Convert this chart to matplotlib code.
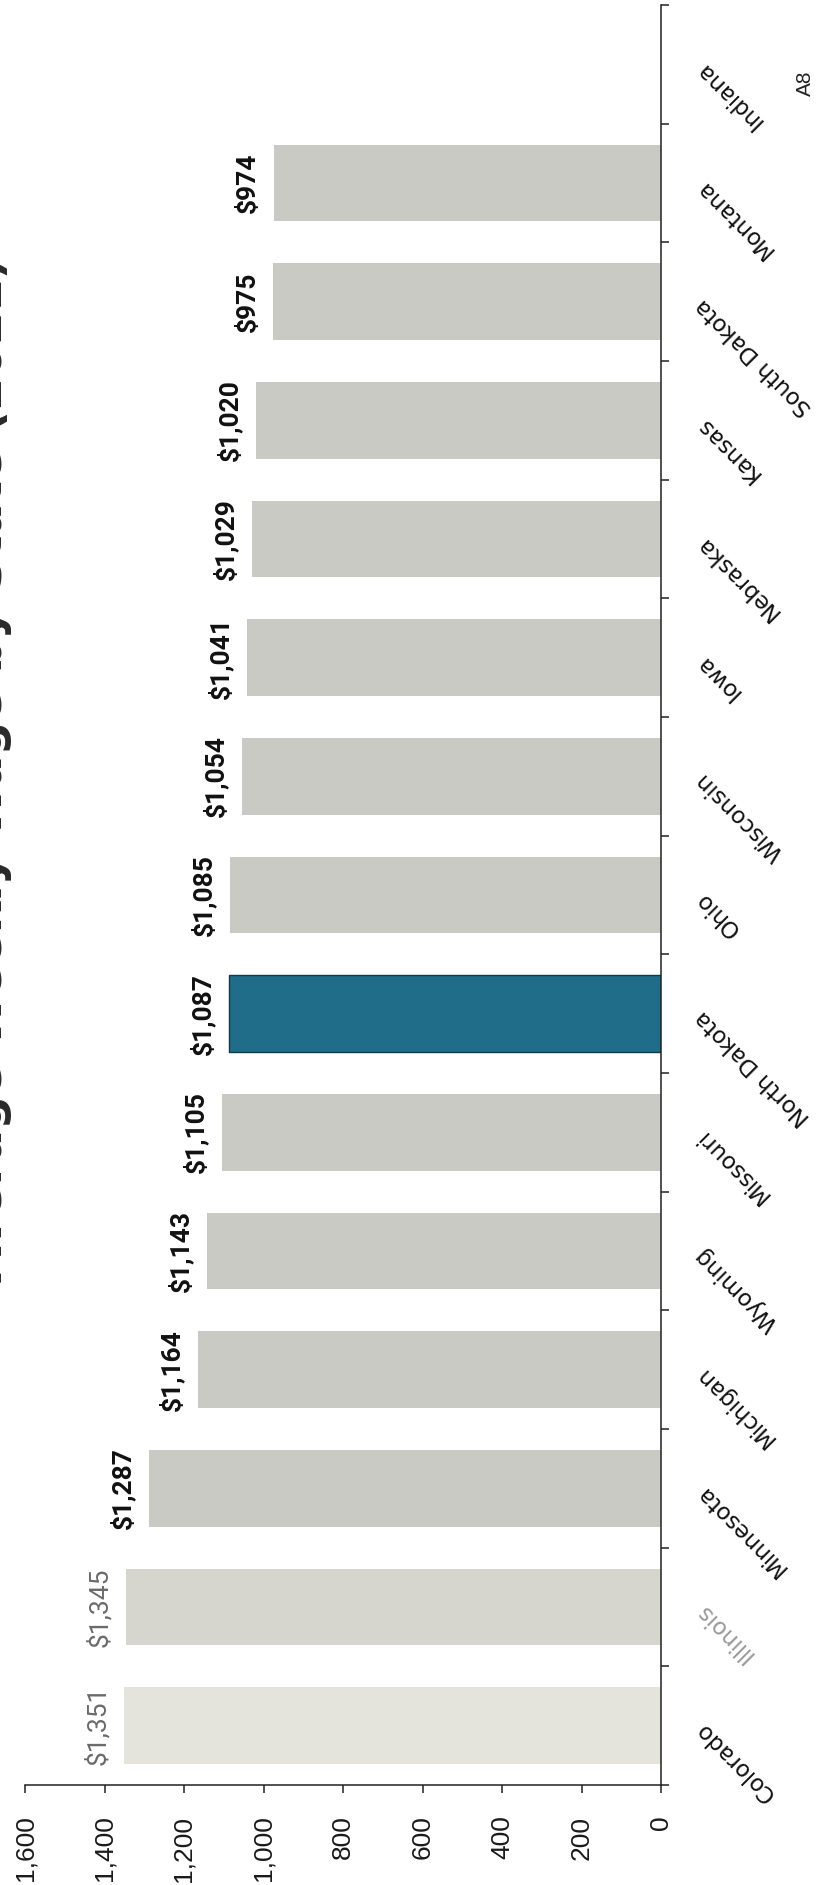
import numpy as np
import matplotlib
matplotlib.use("Agg")
import matplotlib.pyplot as plt

# Average weekly wage by state, sorted high to low
states = ["Colorado", "Illinois", "Minnesota", "Michigan", "Wyoming", "Missouri",
          "North Dakota", "Ohio", "Wisconsin", "Iowa", "Nebraska", "Kansas",
          "South Dakota", "Montana", "Indiana"]
wages = [1351, 1345, 1287, 1164, 1143, 1105, 1087, 1085, 1054, 1041, 1029,
         1020, 975, 974, np.nan]
value_ticks = [0, 200, 400, 600, 800, 1000, 1200, 1400, 1600]
value_tick_labels = ["0", "200", "400", "600", "800", "1,000", "1,200", "1,400", "1,600"]
highlight = "North Dakota"
title = "Average Weekly Wage by State (2021)"

W, H = 817, 1885
fig = plt.figure(figsize=(W / 100, H / 100), dpi=100)
fig.patch.set_facecolor("white")

# axes box in pixel terms: value axis along the bottom, category axis on the right
x0, x1 = 25, 661
y_top, y_bot = 5, 1785
ax = fig.add_axes([x0 / W, (H - y_bot) / H, (x1 - x0) / W, (y_bot - y_top) / H])

pos = np.arange(len(states))
gray = "#cacac5"
colors = []
for s in states:
    if s == highlight:
        colors.append("#1f6d88")
    elif s == "Colorado":
        colors.append("#e4e4dc")
    elif s == "Illinois":
        colors.append("#d6d6cf")
    else:
        colors.append(gray)
edges = ["#0e3a4c" if s == highlight else "none" for s in states]

ax.barh(pos, wages, height=0.645, color=colors, edgecolor=edges, linewidth=1.0)

ax.set_xlim(1600, 0)
ax.set_ylim(-0.5, len(states) - 0.5)

# value labels
for i, (s, v) in enumerate(zip(states, wages)):
    if np.isnan(v):
        continue
    faded = s in ("Colorado", "Illinois")
    ax.annotate(f"${v:,.0f}", (v, i), xytext=(-10, 0), textcoords="offset points",
                rotation=90, ha="right", va="center",
                fontsize=19, fontweight="normal" if faded else "bold",
                color="#6a6a6a" if faded else "#111111",
                family=["Roboto", "DejaVu Sans"])

# spines
for side in ("left", "top"):
    ax.spines[side].set_visible(False)
for side in ("right", "bottom"):
    ax.spines[side].set_color("#222222")
    ax.spines[side].set_linewidth(1.1)

# value axis
ax.set_xticks(value_ticks)
ax.set_xticklabels(value_tick_labels, rotation=90, ha="center", va="top",
                   fontsize=19, family=["Liberation Sans", "DejaVu Sans"], color="#1a1a1a")
ax.tick_params(axis="x", which="major", length=6, width=1.1, direction="out",
               pad=16, color="#222222")

# category axis on the right: ticks at category boundaries, labels at centres
ax.yaxis.tick_right()
ax.set_yticks(pos)
ax.set_yticklabels(states, fontsize=16.5, family=["DejaVu Sans"])
ax.set_yticks(np.arange(-0.5, len(states), 1.0), minor=True)
ax.tick_params(axis="y", which="major", length=0, pad=27, left=False, right=True)
ax.tick_params(axis="y", which="minor", length=6, width=1.1, direction="out",
               left=False, right=True, color="#222222")
for lbl in ax.get_yticklabels():
    lbl.set_rotation(135)
    lbl.set_rotation_mode("anchor")
    lbl.set_horizontalalignment("right")
    lbl.set_verticalalignment("center")
    lbl.set_color("#9a9a9a" if lbl.get_text() == "Illinois" else "#111111")

# title running along the left edge, mostly beyond the page:
# the right edge of its rotated box (the descender side) sits 12 px in
fig.text(12 / W, 1 - 257 / H, title, rotation=90, ha="right", va="top",
         fontsize=34, fontweight="bold", color="#2a2a2a")

# page marker
fig.text(805 / W, 1 - 83 / H, "A8", rotation=90, ha="center", va="center",
         fontsize=15, family=["Liberation Sans", "DejaVu Sans"], color="#222222")

fig.savefig("out.png", dpi=100, facecolor="white")
